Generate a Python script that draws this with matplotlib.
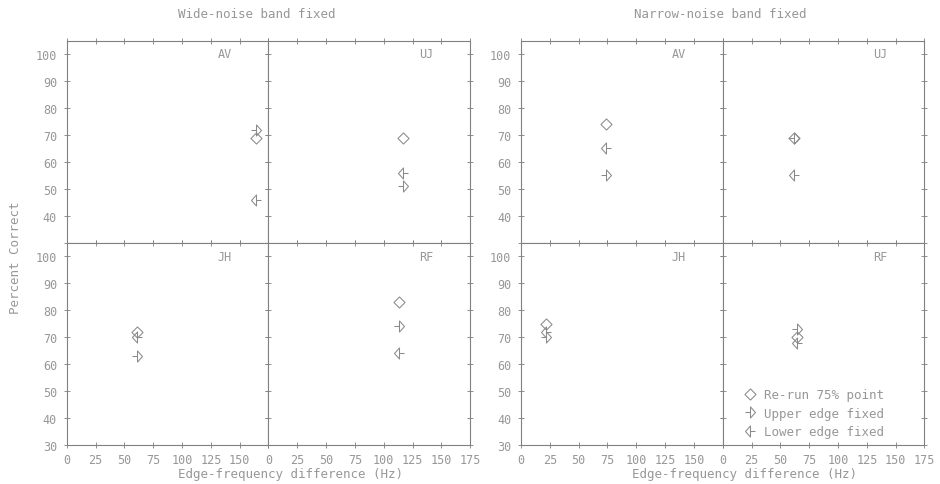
import matplotlib
matplotlib.use("Agg")
import matplotlib.pyplot as plt
from matplotlib.path import Path

# ---------------------------------------------
# Data: percent correct at the 75% edge-frequency point
# ---------------------------------------------
subjects = ["AV", "UJ", "JH", "RF"]

wide_x = [164, 117, 61, 113]
wide_rerun = [69, 69, 72, 83]
wide_upper = [72, 51, 63, 74]
wide_lower = [46, 56, 70, 64]

narrow_x = [74, 62, 22, 64]
narrow_rerun = [74, 69, 75, 70]
narrow_upper = [55, 69, 70, 73]
narrow_lower = [65, 55, 72, 68]

panel_titles = ["Wide-noise band fixed", "Narrow-noise band fixed"]
series_labels = ["Re-run 75% point", "Upper edge fixed", "Lower edge fixed"]

x_ticks = [0, 25, 50, 75, 100, 125, 150, 175]
y_ticks = [30, 40, 50, 60, 70, 80, 90, 100]

# ---------------------------------------------
# Plot-style settings
# ---------------------------------------------
plt.rcParams["font.family"] = ["DejaVu Sans Mono", "DejaVu Sans"]
line_col = "#808080"
text_col = "#979797"
mark_col = "#8a8a8a"

# open diamond, and half-diamonds with a short tail for the edge-fixed runs
diamond = Path([(0, -1), (1, 0), (0, 1), (-1, 0), (0, -1)],
               [Path.MOVETO, Path.LINETO, Path.LINETO, Path.LINETO, Path.CLOSEPOLY])
upper_mark = Path([(0, -1), (0.9, 0), (0, 1), (0, -1), (0, 0), (-0.9, 0)],
                  [Path.MOVETO, Path.LINETO, Path.LINETO, Path.CLOSEPOLY,
                   Path.MOVETO, Path.LINETO])
lower_mark = Path([(0, -1), (-0.9, 0), (0, 1), (0, -1), (0, 0), (0.9, 0)],
                  [Path.MOVETO, Path.LINETO, Path.LINETO, Path.CLOSEPOLY,
                   Path.MOVETO, Path.LINETO])
markers = [diamond, upper_mark, lower_mark]

fig = plt.figure(figsize=(9.4, 4.85), dpi=100)
fig.patch.set_facecolor("white")

panel_left = [0.0710, 0.5543]
sub_w = 0.2146
sub_h = 0.4170
row_bottom = [0.4974, 0.0804]

panels = [
    (wide_x, [wide_rerun, wide_upper, wide_lower]),
    (narrow_x, [narrow_rerun, narrow_upper, narrow_lower]),
]

for p, (xs, series) in enumerate(panels):
    for k, subj in enumerate(subjects):
        row, col = divmod(k, 2)
        ax = fig.add_axes([panel_left[p] + col * sub_w, row_bottom[row], sub_w, sub_h])
        ax.set_xlim(0, 175)
        ax.set_ylim(30, 105)
        for sp in ax.spines.values():
            sp.set_color(line_col)
            sp.set_linewidth(0.8)

        for s, vals in enumerate(series):
            ax.plot(xs[k], vals[k], linestyle="none", marker=markers[s],
                    markersize=8, markerfacecolor="none",
                    markeredgecolor=mark_col, markeredgewidth=0.75,
                    label=series_labels[s])

        ax.text(137, 100, subj, ha="center", va="center", fontsize=8.5, color=text_col)

        ax.set_xticks(x_ticks)
        ax.set_yticks(y_ticks)
        ax.tick_params(direction="inout", length=4, width=0.6, color=line_col,
                       top=True, right=True, labelcolor=text_col, labelsize=8.5)
        ax.tick_params(axis="y", pad=5)
        ax.tick_params(axis="x", pad=4)

        if col == 0:
            if row == 0:
                ax.set_yticklabels([""] + [str(v) for v in y_ticks[1:]])
            else:
                ax.set_yticklabels([str(v) for v in y_ticks])
        else:
            ax.set_yticklabels([])

        if row == 1:
            if col == 0:
                ax.set_xticklabels([str(v) for v in x_ticks[:-1]] + [""])
            else:
                ax.set_xticklabels([str(v) for v in x_ticks])
        else:
            ax.set_xticklabels([])

        if p == 1 and subj == "RF":
            ax.legend(loc="lower left", bbox_to_anchor=(0.06, -0.01), frameon=False,
                      fontsize=9, labelcolor=text_col, handlelength=1.0,
                      handletextpad=0.6, labelspacing=0.45, borderaxespad=0.3)

# panel titles and axis labels
fig.text(257 / 940, 1 - 15 / 485, panel_titles[0], ha="center", va="center",
         fontsize=9, color=text_col)
fig.text(720 / 940, 1 - 15 / 485, panel_titles[1], ha="center", va="center",
         fontsize=9, color=text_col)
fig.text(290 / 940, 1 - 475 / 485, "Edge-frequency difference (Hz)", ha="center",
         va="center", fontsize=9, color=text_col)
fig.text(745 / 940, 1 - 475 / 485, "Edge-frequency difference (Hz)", ha="center",
         va="center", fontsize=9, color=text_col)
fig.text(16 / 940, 1 - 258 / 485, "Percent Correct", ha="center", va="center",
         rotation=90, fontsize=9, color=text_col)

fig.savefig("out.png", dpi=100, facecolor="white")
